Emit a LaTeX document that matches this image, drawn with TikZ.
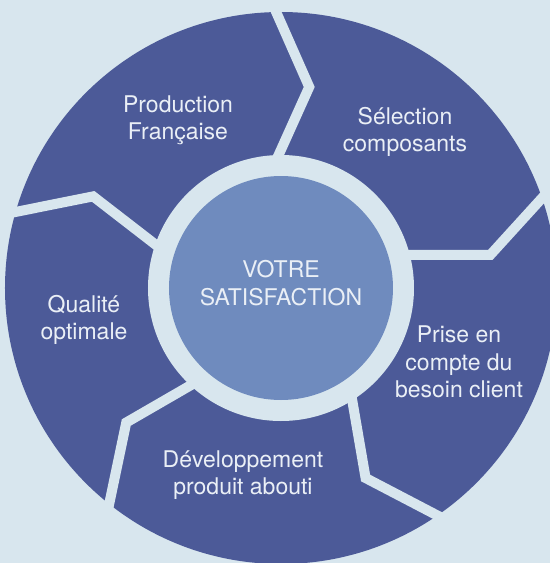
\documentclass[tikz,border=0pt]{standalone}
\usepackage{fontspec}
\setmainfont{TeX Gyre Heros}
\usetikzlibrary{calc}
\definecolor{fondclair}{RGB}{216,230,238}
\definecolor{bleufonce}{RGB}{76,90,152}
\definecolor{bleumoyen}{RGB}{111,139,190}
\definecolor{textclair}{RGB}{234,239,246}
\tikzset{etape/.style={align=center, text=textclair, inner sep=0pt, font=\fontsize{11.5}{13.7}\selectfont}}
\begin{document}
\begin{tikzpicture}[line join=miter, line cap=butt, x=0.5pt, y=0.5pt]
\def \rext{276};
\def \ranneau{133};
\def \gauche{-281};
\def \droite{269};
\def \bas{-275};
\def \haut{288};
\useasboundingbox (\gauche,\bas) rectangle (\droite,\haut);
\fill[fondclair] (\gauche,\bas) rectangle (\droite,\haut);
\clip (\gauche,\bas) rectangle (\droite,\haut);
\fill[bleufonce] (0,0) circle(\rext);
\foreach \a/\b/\rb/\c in {94/82/203/91, 16/9/212/19, 163/154/209/164, 229/221/205/231.5, 305/294/208/304.5}{
\draw[fondclair, line width=5pt] (\a:120) -- (\b:\rb) -- ($(\b:\rb)!1.4!(\c:\rext)$);}
\fill[fondclair] (0,0) circle(\ranneau);
\node[etape, circle, fill=bleumoyen, minimum size=112pt] (satisfaction) at (0,0) {};
\node[etape] (votre) at (0,5) {VOTRE\\SATISFACTION};
\node[etape] (production) at (-103,168) {Production\\Française};
\node[etape] (selection) at (124,156) {Sélection\\composants};
\node[etape] (besoin) at (178,-74) {Prise en\\compte du\\besoin client};
\node[etape] (developpement) at (-38,-187) {Développement\\produit abouti};
\node[etape] (qualite) at (-197,-32) {Qualité\\optimale};
\end{tikzpicture}
\end{document}
